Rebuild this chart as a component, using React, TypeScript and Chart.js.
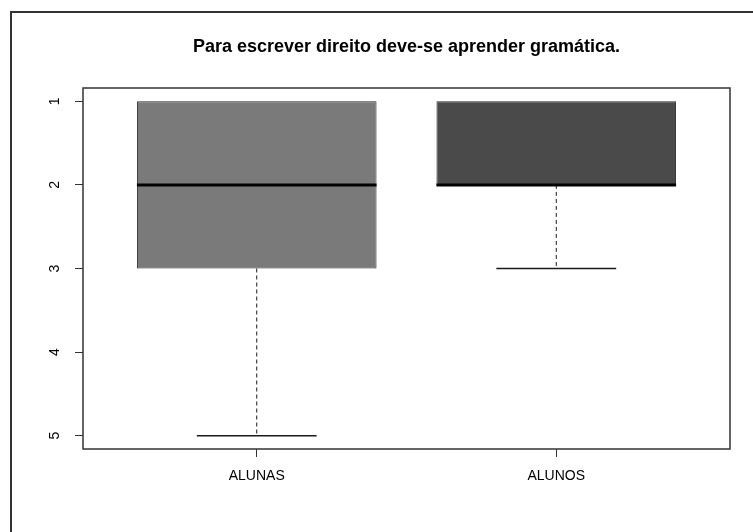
import React, { useEffect, useRef } from "react";
import { Chart, registerables } from "chart.js";

Chart.register(...registerables);

const title = "Para escrever direito deve-se aprender gramática.";
const categories = ["ALUNAS", "ALUNOS"];
const mins = [1, 1];
const q1s = [1, 1];
const medians = [2, 2];
const q3s = [3, 2];
const maxs = [5, 3];
const boxColors = ["#7a7a7a", "#4a4a4a"];
const yTicks = [1, 2, 3, 4, 5];

const FONT = "'Liberation Sans', Arial, Helvetica, sans-serif";

const boxPlugin = {
  id: "boxExtras",
  beforeDraw(chart: any) {
    const ctx = chart.ctx;
    ctx.save();
    ctx.strokeStyle = "#333";
    ctx.lineWidth = 2;
    ctx.beginPath();
    ctx.moveTo(11, 532);
    ctx.lineTo(11, 12);
    ctx.lineTo(753, 12);
    ctx.stroke();
    // title centred over the plot region
    const a = chart.chartArea;
    ctx.fillStyle = "#000";
    ctx.font = `bold 18px ${FONT}`;
    ctx.textAlign = "center";
    ctx.textBaseline = "middle";
    ctx.fillText(title, (a.left + a.right) / 2, 47);
    ctx.restore();
  },
  afterDatasetsDraw(chart: any) {
    const ctx = chart.ctx;
    const xs = chart.scales.x;
    const ys = chart.scales.y;
    ctx.save();
    ctx.strokeStyle = "#1a1a1a";
    categories.forEach((_, i) => {
      const xv = i + 1;
      const xc = xs.getPixelForValue(xv);
      const hb = xs.getPixelForValue(xv + 0.4) - xc;
      const hc = xs.getPixelForValue(xv + 0.2) - xc;
      // whiskers (dashed)
      ctx.lineWidth = 1;
      ctx.setLineDash([4, 3]);
      ctx.beginPath();
      if (maxs[i] !== q3s[i]) {
        ctx.moveTo(xc, ys.getPixelForValue(q3s[i]));
        ctx.lineTo(xc, ys.getPixelForValue(maxs[i]));
      }
      if (mins[i] !== q1s[i]) {
        ctx.moveTo(xc, ys.getPixelForValue(q1s[i]));
        ctx.lineTo(xc, ys.getPixelForValue(mins[i]));
      }
      ctx.stroke();
      // caps
      ctx.setLineDash([]);
      ctx.lineWidth = 1.5;
      ctx.beginPath();
      if (mins[i] !== q1s[i]) {
        const yp = ys.getPixelForValue(mins[i]);
        ctx.moveTo(xc - hc, yp);
        ctx.lineTo(xc + hc, yp);
      }
      if (maxs[i] !== q3s[i]) {
        const yp = ys.getPixelForValue(maxs[i]);
        ctx.moveTo(xc - hc, yp);
        ctx.lineTo(xc + hc, yp);
      }
      ctx.stroke();
      // median
      ctx.lineWidth = 3;
      ctx.strokeStyle = "#000";
      ctx.beginPath();
      const ym = ys.getPixelForValue(medians[i]);
      ctx.moveTo(xc - hb, ym);
      ctx.lineTo(xc + hb, ym);
      ctx.stroke();
      ctx.strokeStyle = "#1a1a1a";
    });
    // plot frame
    const a = chart.chartArea;
    ctx.lineWidth = 1.5;
    ctx.strokeStyle = "#333";
    ctx.strokeRect(a.left, a.top, a.right - a.left, a.bottom - a.top);
    ctx.restore();
  },
};

export default function App() {
  const ref = useRef<HTMLCanvasElement | null>(null);

  useEffect(() => {
    if (!ref.current) return;
    Chart.defaults.font.family = FONT;
    const chart = new Chart(ref.current, {
      type: "bar",
      data: {
        datasets: [
          {
            data: categories.map((_, i) => ({ x: i + 1, y: [q1s[i], q3s[i]] })) as any,
            backgroundColor: boxColors,
            borderColor: "#2a2a2a",
            borderWidth: 1,
            borderSkipped: false,
            barPercentage: 0.8,
            categoryPercentage: 1,
            grouped: false,
          } as any,
        ],
      },
      options: {
        animation: false,
        responsive: false,
        devicePixelRatio: 1,
        layout: { padding: { left: 0, right: 23, top: 88, bottom: 0 } },
        plugins: {
          legend: { display: false },
          tooltip: { enabled: false },
          title: { display: false },
        },
        scales: {
          x: {
            type: "linear",
            min: 0.42,
            max: 2.58,
            offset: false,
            afterBuildTicks: (s: any) => {
              s.ticks = categories.map((_, i) => ({ value: i + 1 }));
            },
            afterFit: (s: any) => {
              s.height = 83;
            },
            border: { display: false },
            grid: {
              offset: false,
              drawOnChartArea: false,
              drawTicks: true,
              tickLength: 8,
              color: "#333",
            },
            ticks: {
              padding: 11,
              color: "#000",
              font: { family: FONT, size: 14 },
              maxRotation: 0,
              minRotation: 0,
              callback: (v: any) => categories[Math.round(v) - 1] ?? "",
            },
          },
          y: {
            type: "linear",
            reverse: true,
            min: 0.84,
            max: 5.16,
            afterBuildTicks: (s: any) => {
              s.ticks = yTicks.map((v) => ({ value: v }));
            },
            afterFit: (s: any) => {
              s.width = 83;
            },
            border: { display: false },
            grid: {
              drawOnChartArea: false,
              drawTicks: true,
              tickLength: 8,
              color: "#333",
            },
            ticks: {
              padding: 16,
              color: "#000",
              crossAlign: "center",
              minRotation: 90,
              maxRotation: 90,
              font: { family: FONT, size: 14 },
              callback: (v: any) => String(v),
            },
          },
        },
      } as any,
      plugins: [boxPlugin],
    });
    return () => chart.destroy();
  }, []);

  return (
    <div style={{ position: "fixed", left: 0, top: 0, width: 753, height: 532, background: "#fff" }}>
      <canvas ref={ref} width={753} height={532} style={{ display: "block" }} />
    </div>
  );
}
